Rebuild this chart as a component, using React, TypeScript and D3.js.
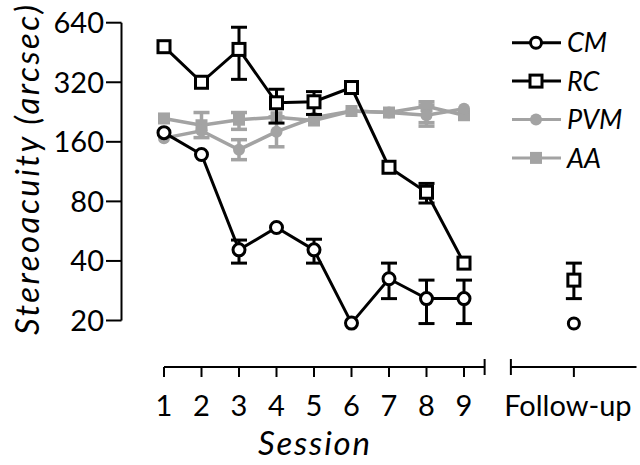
import React from "react";
import * as d3 from "d3";

const sessions = [1, 2, 3, 4, 5, 6, 7, 8, 9];
const sessionLabels = ["1", "2", "3", "4", "5", "6", "7", "8", "9"];
const followUpLabel = "Follow-up";
const yTicks = [20, 40, 80, 160, 320, 640];

const cmValues = [178, 138, 45.5, 59, 45.5, 19.4, 32.5, 25.8, 25.8];
const cmLow = [null, null, 39, null, 39, null, 25.8, 19.3, 19.3];
const cmHigh = [null, null, 51, null, 51.5, null, 39, 32, 32];
const cmFollow = 19.3;

const rcValues = [484, 320, 469, 252, 255, 301, 119, 89, 39];
const rcLow = [null, null, 331, 199, 220, null, null, 78.5, null];
const rcHigh = [null, null, 607, 295, 287, null, null, 98.6, null];
const rcFollow = 32;
const rcFollowLow = 25.8;
const rcFollowHigh = 39;

const pvmValues = [167, 182, 146, 180, 212, 229, 225, 218, 235];
const pvmLow = [null, null, 130, 151, null, null, null, 192, null];
const pvmHigh = [null, null, 164, 214, null, null, null, 245, null];

const aaValues = [210, 194, 207, 213, 205, 229, 225, 242, 218];
const aaLow = [null, 168, 185, null, null, null, null, 200, null];
const aaHigh = [null, 225, 225, null, null, null, null, 255, null];

const legendNames = ["CM", "RC", "PVM", "AA"];

const BLACK = "#000";
const GRAY = "#a3a3a3";
const FONT = "Lato, 'Open Sans', sans-serif";

export default function App() {
  React.useEffect(() => {
    document.body.style.margin = "0";
  }, []);
  const x = d3.scaleLinear().domain([1, 9]).range([164, 464]);
  const y = d3.scaleLog().base(2).domain([20, 640]).range([320.5, 22.7]);
  const followPos = 11.93;
  const line = d3
    .line<number>()
    .x((_, i) => x(sessions[i]))
    .y((d) => y(d));

  const errBars = (
    vals: number[],
    lo: (number | null)[],
    hi: (number | null)[],
    color: string,
    key: string,
    sw: number
  ) =>
    vals.map((v, i) => {
      if (lo[i] == null || hi[i] == null) return null;
      const cx = x(sessions[i]);
      const y1 = y(lo[i] as number);
      const y2 = y(hi[i] as number);
      return (
        <g key={key + i} stroke={color} strokeWidth={sw}>
          <line x1={cx} x2={cx} y1={y1} y2={y2} />
          <line x1={cx - 8} x2={cx + 8} y1={y1} y2={y1} />
          <line x1={cx - 8} x2={cx + 8} y1={y2} y2={y2} />
        </g>
      );
    });

  const xAxisY = 367;
  const seg1Start = x(1);
  const seg1End = x(9.55);
  const seg2Start = x(10.25);
  const seg2End = x(13.6);

  return (
    <svg
      width={640}
      height={465}
      style={{ position: "absolute", left: 0, top: 0, background: "#fff" }}
      fontFamily={FONT}
    >
      {/* Y axis */}
      <line x1={121.5} x2={121.5} y1={y(640)} y2={y(20)} stroke={BLACK} strokeWidth={2} />
      {yTicks.map((t) => (
        <g key={"yt" + t}>
          <line x1={106} x2={121.5} y1={y(t)} y2={y(t)} stroke={BLACK} strokeWidth={2} />
          <text x={104} y={y(t)} dy="0.36em" textAnchor="end" fontSize={29} fill={BLACK}>
            {t}
          </text>
        </g>
      ))}
      <text
        transform={`translate(39,${170}) rotate(-90)`}
        textAnchor="middle"
        fontSize={33}
        fontStyle="italic"
        fill={BLACK}
        textLength={330}
        lengthAdjust="spacing"
      >
        Stereoacuity (arcsec)
      </text>

      {/* X axis */}
      <line x1={seg1Start} x2={seg1End} y1={xAxisY} y2={xAxisY} stroke={BLACK} strokeWidth={2} />
      {sessions.map((s, i) => (
        <g key={"xt" + s}>
          <line x1={x(s)} x2={x(s)} y1={xAxisY} y2={xAxisY + 10} stroke={BLACK} strokeWidth={2} />
          <text x={x(s)} y={416} textAnchor="middle" fontSize={29} fill={BLACK}>
            {sessionLabels[i]}
          </text>
        </g>
      ))}
      <line x1={seg1End} x2={seg1End} y1={xAxisY - 8} y2={xAxisY + 8} stroke={BLACK} strokeWidth={2} />
      <line x1={seg2Start} x2={seg2End} y1={xAxisY} y2={xAxisY} stroke={BLACK} strokeWidth={2} />
      <line x1={seg2Start} x2={seg2Start} y1={xAxisY - 8} y2={xAxisY + 8} stroke={BLACK} strokeWidth={2} />
      <line x1={x(followPos)} x2={x(followPos)} y1={xAxisY} y2={xAxisY + 10} stroke={BLACK} strokeWidth={2} />
      <text x={x(followPos) - 6} y={416} textAnchor="middle" fontSize={29} fill={BLACK}>
        {followUpLabel}
      </text>
      <text
        x={314}
        y={455}
        textAnchor="middle"
        fontSize={33}
        fontStyle="italic"
        fill={BLACK}
        textLength={112}
        lengthAdjust="spacing"
      >
        Session
      </text>

      {/* Gray series */}
      <path d={line(aaValues) || ""} fill="none" stroke={GRAY} strokeWidth={3.5} />
      <path d={line(pvmValues) || ""} fill="none" stroke={GRAY} strokeWidth={3.5} />
      {errBars(aaValues, aaLow, aaHigh, GRAY, "aae", 3.5)}
      {errBars(pvmValues, pvmLow, pvmHigh, GRAY, "pve", 3.5)}
      {aaValues.map((v, i) => (
        <rect key={"aa" + i} x={x(sessions[i]) - 6} y={y(v) - 6} width={12} height={12} fill={GRAY} />
      ))}
      {pvmValues.map((v, i) => (
        <circle key={"pv" + i} cx={x(sessions[i])} cy={y(v)} r={6} fill={GRAY} />
      ))}

      {/* Black series */}
      <path d={line(rcValues) || ""} fill="none" stroke={BLACK} strokeWidth={3} />
      <path d={line(cmValues) || ""} fill="none" stroke={BLACK} strokeWidth={3} />
      {errBars(rcValues, rcLow, rcHigh, BLACK, "rce", 3)}
      {errBars(cmValues, cmLow, cmHigh, BLACK, "cme", 3)}
      {rcValues.map((v, i) => (
        <rect
          key={"rc" + i}
          x={x(sessions[i]) - 6}
          y={y(v) - 6}
          width={12}
          height={12}
          fill="#fff"
          stroke={BLACK}
          strokeWidth={3}
        />
      ))}
      {cmValues.map((v, i) => (
        <circle key={"cm" + i} cx={x(sessions[i])} cy={y(v)} r={6} fill="#fff" stroke={BLACK} strokeWidth={3} />
      ))}

      {/* Follow-up */}
      <g stroke={BLACK} strokeWidth={3}>
        <line x1={x(followPos)} x2={x(followPos)} y1={y(rcFollowLow)} y2={y(rcFollowHigh)} />
        <line x1={x(followPos) - 8} x2={x(followPos) + 8} y1={y(rcFollowLow)} y2={y(rcFollowLow)} />
        <line x1={x(followPos) - 8} x2={x(followPos) + 8} y1={y(rcFollowHigh)} y2={y(rcFollowHigh)} />
      </g>
      <rect
        x={x(followPos) - 6}
        y={y(rcFollow) - 6}
        width={12}
        height={12}
        fill="#fff"
        stroke={BLACK}
        strokeWidth={3}
      />
      <circle cx={x(followPos)} cy={y(cmFollow)} r={5.5} fill="#fff" stroke={BLACK} strokeWidth={3} />

      {/* Legend */}
      {legendNames.map((name, i) => {
        const ly = 42.7 + i * 38.4;
        const color = i < 2 ? BLACK : GRAY;
        return (
          <g key={"lg" + name}>
            <line x1={512} x2={561} y1={ly} y2={ly} stroke={color} strokeWidth={3} />
            {i === 0 && <circle cx={536} cy={ly} r={5.5} fill="#fff" stroke={BLACK} strokeWidth={3} />}
            {i === 1 && (
              <rect x={530} y={ly - 6} width={12} height={12} fill="#fff" stroke={BLACK} strokeWidth={3} />
            )}
            {i === 2 && <circle cx={536} cy={ly} r={6} fill={GRAY} />}
            {i === 3 && <rect x={530} y={ly - 6} width={12} height={12} fill={GRAY} />}
            <text x={567} y={ly} dy="0.36em" fontSize={27} fontStyle="italic" fill={BLACK}>
              {name}
            </text>
          </g>
        );
      })}
    </svg>
  );
}
